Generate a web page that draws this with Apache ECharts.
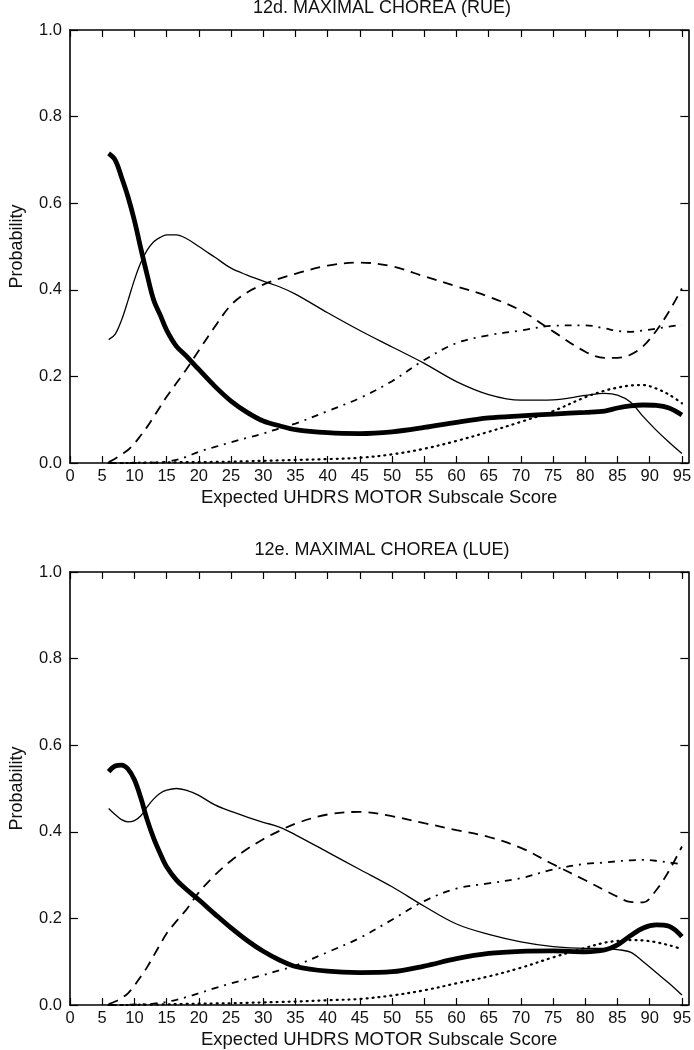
<!DOCTYPE html>
<html>
<head>
<meta charset="utf-8">
<script src="https://cdn.jsdelivr.net/npm/echarts@6/dist/echarts.min.js"></script>
<style>
html,body{margin:0;padding:0;background:#fff;}
#chart{width:694px;height:1050px;}
</style>
</head>
<body>
<div id="chart"></div>
<script>
// ---- data ----
var titles = ['12d. MAXIMAL CHOREA (RUE)', '12e. MAXIMAL CHOREA (LUE)'];
var xName = 'Expected UHDRS MOTOR Subscale Score';
var yName = 'Probability';
var xTicks = [0,5,10,15,20,25,30,35,40,45,50,55,60,65,70,75,80,85,90,95];
var yTicks = [0,0.2,0.4,0.6,0.8,1.0];

var X = [6,7,8,9,10,11,12,13,14,15,16.5,18,20,22.5,25,27.5,30,32.5,35,40,45,50,55,60,65,70,75,80,83,85,87,89,91,93,95];

// 12d (RUE)
var rueThick  = [0.715,0.70,0.66,0.615,0.56,0.495,0.433,0.376,0.342,0.307,0.27,0.248,0.216,0.177,0.143,0.117,0.097,0.086,0.077,0.070,0.068,0.072,0.082,0.094,0.104,0.109,0.113,0.117,0.120,0.127,0.132,0.134,0.133,0.127,0.111];
var rueThin   = [0.285,0.297,0.33,0.375,0.423,0.463,0.492,0.511,0.521,0.527,0.527,0.519,0.50,0.475,0.45,0.434,0.42,0.407,0.39,0.347,0.306,0.268,0.23,0.188,0.158,0.145,0.146,0.156,0.161,0.157,0.141,0.107,0.076,0.048,0.022];
var rueDash   = [0.002,0.01,0.02,0.03,0.045,0.064,0.084,0.107,0.13,0.153,0.184,0.215,0.26,0.315,0.365,0.394,0.412,0.426,0.437,0.456,0.463,0.454,0.431,0.408,0.384,0.352,0.304,0.257,0.243,0.243,0.25,0.27,0.305,0.35,0.403];
var rueDashDot= [0,0,0,0,0,0.0003,0.0005,0.001,0.002,0.003,0.007,0.014,0.026,0.037,0.048,0.058,0.068,0.08,0.091,0.12,0.15,0.189,0.238,0.277,0.295,0.306,0.317,0.318,0.311,0.305,0.303,0.306,0.31,0.315,0.319];
var rueDot    = [0,0,0,0,0.0005,0.0007,0.001,0.001,0.0012,0.0015,0.0017,0.002,0.002,0.0025,0.003,0.004,0.005,0.006,0.007,0.009,0.012,0.02,0.033,0.051,0.072,0.095,0.12,0.152,0.167,0.174,0.179,0.18,0.172,0.158,0.138];

// 12e (LUE)
var lueThick  = [0.539,0.552,0.554,0.545,0.52,0.478,0.427,0.385,0.35,0.319,0.289,0.268,0.243,0.21,0.178,0.149,0.124,0.104,0.089,0.078,0.075,0.077,0.09,0.107,0.119,0.124,0.125,0.123,0.127,0.139,0.16,0.178,0.185,0.182,0.158];
var lueThin   = [0.454,0.44,0.428,0.423,0.426,0.437,0.458,0.476,0.489,0.496,0.50,0.496,0.484,0.462,0.447,0.434,0.422,0.411,0.393,0.353,0.313,0.273,0.228,0.187,0.163,0.146,0.135,0.131,0.131,0.128,0.122,0.10,0.075,0.05,0.023];
var lueDash   = [0.002,0.008,0.016,0.027,0.045,0.066,0.088,0.114,0.14,0.165,0.193,0.219,0.26,0.30,0.333,0.36,0.383,0.402,0.419,0.44,0.446,0.436,0.42,0.404,0.388,0.363,0.325,0.288,0.265,0.25,0.238,0.237,0.265,0.31,0.366];
var lueDashDot= [0,0,0,0.0005,0.001,0.0015,0.002,0.003,0.005,0.007,0.012,0.018,0.027,0.039,0.05,0.06,0.069,0.08,0.091,0.122,0.155,0.197,0.24,0.269,0.281,0.293,0.313,0.326,0.329,0.332,0.334,0.335,0.333,0.329,0.325];
var lueDot    = [0,0,0,0,0.0005,0.0007,0.001,0.001,0.0013,0.0016,0.002,0.0025,0.003,0.0035,0.004,0.005,0.006,0.007,0.008,0.011,0.014,0.022,0.034,0.05,0.066,0.086,0.11,0.132,0.144,0.148,0.15,0.149,0.145,0.138,0.129];

var panels = [
  [rueThick, rueThin, rueDash, rueDashDot, rueDot],
  [lueThick, lueThin, lueDash, lueDashDot, lueDot]
];

// ---- chart ----
var FONT = 'Liberation Sans, Arial, Helvetica, sans-serif';
var gridTops = [30, 572];
var lineStyles = [
  {width: 4.8, type: 'solid'},
  {width: 1.3, type: 'solid'},
  {width: 1.8, type: [10, 7]},
  {width: 1.8, type: [7, 6, 2, 6]},
  {width: 2.2, type: [1, 5]}
];

function pairs(ys){ return X.map(function(x,i){ return [x, ys[i]]; }); }

var grid = [], xAxis = [], yAxis = [], series = [], title = [];
gridTops.forEach(function(top, g){
  grid.push({left: 61, width: 632, top: top, height: 433, containLabel: false});
  title.push({
    text: titles[g], left: 377, textAlign: 'center', top: top - 36,
    textStyle: {fontFamily: FONT, fontSize: 18, fontWeight: 'normal', color: '#111'}
  });
  var axLine = {show: true, onZero: false, lineStyle: {color: '#000', width: 1.6}};
  xAxis.push({
    type: 'value', gridIndex: g, min: 0, max: 96, position: 'bottom',
    name: xName, nameLocation: 'middle', nameGap: 25,
    nameTextStyle: {fontFamily: FONT, fontSize: 18.5, color: '#111'},
    axisLine: axLine,
    axisTick: {show: true, inside: true, length: 7, customValues: xTicks, lineStyle: {color: '#000', width: 1.2}},
    axisLabel: {show: true, customValues: xTicks, margin: 5, fontFamily: FONT, fontSize: 16.5, color: '#111'},
    splitLine: {show: false}
  });
  xAxis.push({
    type: 'value', gridIndex: g, min: 0, max: 96, position: 'top',
    axisLine: axLine,
    axisTick: {show: true, inside: true, length: 7, customValues: xTicks, lineStyle: {color: '#000', width: 1.2}},
    axisLabel: {show: false},
    splitLine: {show: false}
  });
  yAxis.push({
    type: 'value', gridIndex: g, min: 0, max: 1, interval: 0.2, position: 'left',
    name: yName, nameLocation: 'middle', nameGap: 44, nameRotate: 90,
    nameTextStyle: {fontFamily: FONT, fontSize: 18, color: '#111'},
    axisLine: axLine,
    axisTick: {show: true, inside: true, length: 8, customValues: yTicks, lineStyle: {color: '#000', width: 1.2}},
    axisLabel: {show: true, customValues: yTicks, margin: 8, fontFamily: FONT, fontSize: 16.5, color: '#111',
      formatter: function(v){ return v.toFixed(1); }},
    splitLine: {show: false}
  });
  yAxis.push({
    type: 'value', gridIndex: g, min: 0, max: 1, interval: 0.2, position: 'right',
    axisLine: axLine,
    axisTick: {show: true, inside: true, length: 8, customValues: yTicks, lineStyle: {color: '#000', width: 1.2}},
    axisLabel: {show: false},
    splitLine: {show: false}
  });
  panels[g].forEach(function(ys, k){
    series.push({
      type: 'line', xAxisIndex: g * 2, yAxisIndex: g * 2,
      data: pairs(ys), showSymbol: false, symbol: 'none', smooth: 0.35,
      lineStyle: {color: '#000', width: lineStyles[k].width, type: lineStyles[k].type, cap: k === 4 ? 'round' : 'butt'},
      z: k === 0 ? 5 : 3, silent: true, clip: true
    });
  });
});

var chart = echarts.init(document.getElementById('chart'), null, {renderer: 'canvas'});
chart.setOption({
  animation: false,
  backgroundColor: '#fff',
  title: title,
  grid: grid,
  xAxis: xAxis,
  yAxis: yAxis,
  series: series
});
</script>
</body>
</html>
